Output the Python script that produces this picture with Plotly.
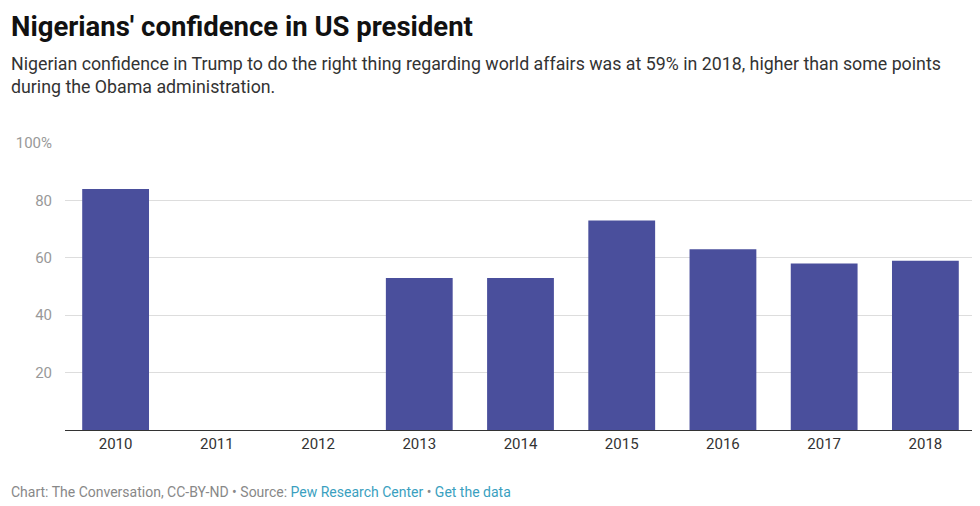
import plotly.graph_objects as go

years = ["2010", "2011", "2012", "2013", "2014", "2015", "2016", "2017", "2018"]
confidence = [84, None, None, 53, 53, 73, 63, 58, 59]
y_ticks = [20, 40, 60, 80, 100]
y_tick_labels = ["20", "40", "60", "80", "100%"]

OFF = 8  # default page body margin
W, H = 972, 498
L, R, T, B = 65 - OFF, 4, 143 - OFF, 76
pw = W - L - R
ph = H - T - B

def px_x(x):
    return (x - OFF - L) / pw

def px_y(y):
    return (H - B - (y - OFF)) / ph

fig = go.Figure()
fig.add_trace(go.Bar(x=years, y=confidence, marker_color="#4a4f9c",
                     marker_line_width=0, hoverinfo="x+y"))

fig.update_layout(
    width=W, height=H,
    margin=dict(l=L, r=R, t=T, b=B, pad=0),
    paper_bgcolor="white", plot_bgcolor="white",
    bargap=0.34,
    showlegend=False,
    font=dict(family="Roboto, sans-serif"),
    xaxis=dict(type="category", showgrid=False, showline=True, linecolor="#333333",
               linewidth=1, ticks="", tickfont=dict(size=15, color="#333333"),
               fixedrange=True),
    yaxis=dict(range=[0, 100], tickvals=y_ticks, ticktext=y_tick_labels,
               showgrid=True, gridcolor="#dddddd", gridwidth=1, zeroline=False,
               ticks="", tickfont=dict(size=15, color="#999999"), ticklabelstandoff=12,
               fixedrange=True),
    annotations=[
        dict(text="<b>Nigerians' confidence in US president</b>", xref="paper", yref="paper",
             x=px_x(10), y=px_y(8.5), xanchor="left", yanchor="top", showarrow=False,
             borderpad=0,
             font=dict(size=27.5, color="#111111", family="Roboto, sans-serif")),
        dict(text="Nigerian confidence in Trump to do the right thing regarding world affairs was at 59% in 2018, higher than some points<br>during the Obama administration.",
             xref="paper", yref="paper", x=px_x(10), y=px_y(75), xanchor="left", yanchor="middle",
             align="left", showarrow=False, borderpad=0,
             font=dict(size=17.8, color="#333333", family="Roboto, sans-serif")),
        dict(text="Chart: The Conversation, CC-BY-ND • Source: <span style='color:#3a9fc0'>Pew Research Center</span> • <span style='color:#3a9fc0'>Get the data</span>",
             xref="paper", yref="paper", x=px_x(10), y=px_y(492), xanchor="left", yanchor="middle",
             align="left", showarrow=False, borderpad=0,
             font=dict(size=14, color="#888888", family="Roboto, sans-serif")),
    ],
)

fig.write_html("out.html")
